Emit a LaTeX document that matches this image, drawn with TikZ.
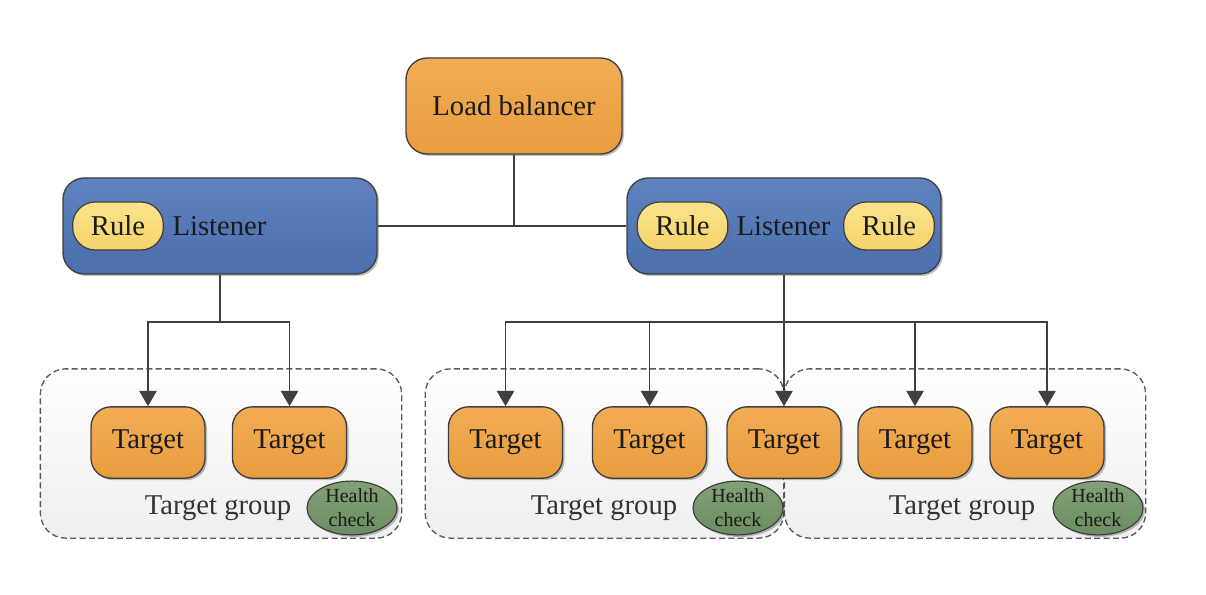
\documentclass[tikz,border=0pt]{standalone}
\usepackage{fontspec}
\setmainfont{Liberation Serif}
\usetikzlibrary{arrows.meta,shadows,shapes.geometric}
\definecolor{linec}{HTML}{3F3F3F}
\definecolor{textc}{HTML}{1A1A1A}
\definecolor{orA}{HTML}{F1AC55}
\definecolor{orB}{HTML}{E99D3E}
\definecolor{blA}{HTML}{5F83C0}
\definecolor{blB}{HTML}{4B6EAC}
\definecolor{yeA}{HTML}{FBE38D}
\definecolor{yeB}{HTML}{F4D36A}
\definecolor{grA}{HTML}{82A176}
\definecolor{grB}{HTML}{6C8C61}
\definecolor{tgA}{HTML}{FEFEFE}
\definecolor{tgB}{HTML}{EFEFEF}
\definecolor{dashc}{HTML}{5A5A5A}
\newcommand{\bigfont}{\fontsize{21.5}{24}\selectfont}
\newcommand{\hcfont}{\fontsize{15}{18}\selectfont}
\begin{document}
\begin{tikzpicture}[x=0.75pt,y=-0.75pt,
  box/.style={draw=linec, line width=1pt, rounded corners=16pt, font=\bigfont, text=textc, inner sep=0pt},
  orangebox/.style={box, top color=orA, bottom color=orB,
     drop shadow={shadow xshift=1.5pt, shadow yshift=-1.5pt, opacity=0.25, fill=black}},
  bluebox/.style={box, top color=blA, bottom color=blB,
     drop shadow={shadow xshift=1.5pt, shadow yshift=-1.5pt, opacity=0.25, fill=black}},
  rulepill/.style={draw=linec, line width=0.9pt, rounded corners=17pt, top color=yeA, bottom color=yeB,
     font=\bigfont, text=textc, inner sep=0pt, minimum width=68pt, minimum height=36pt,
     drop shadow={shadow xshift=2pt, shadow yshift=-2pt, opacity=0.35, fill=blue!20!gray}},
  tgroup/.style={draw=dashc, line width=1pt, dash pattern=on 4.5pt off 2.5pt, rounded corners=19pt,
     top color=tgA, bottom color=tgB, minimum width=271pt, minimum height=127pt, inner sep=0pt},
  targetbox/.style={orangebox, minimum width=85.5pt, minimum height=53.5pt, rounded corners=15pt},
  hcheck/.style={ellipse, draw=linec, line width=0.9pt, top color=grA, bottom color=grB,
     minimum width=67.5pt, minimum height=37.5pt, inner sep=0pt, align=center, font=\hcfont, text=textc,
     drop shadow={shadow xshift=1.5pt, shadow yshift=-1.5pt, opacity=0.25, fill=black}},
  tglabel/.style={font=\bigfont, text=black!80, inner sep=0pt},
  conn/.style={draw=linec, line width=1.2pt},
  arr/.style={conn, -{Triangle[length=11.5pt, width=13pt]}}
]
\useasboundingbox (0,0) rectangle (1206,595);

% target groups
\node[tgroup] (g1) at (221,453.5) {};
\node[tgroup, minimum width=269pt] (g2) at (604.5,453.5) {};
\node[tgroup] (g3) at (965,453.5) {};

% top nodes
\node[orangebox, minimum width=162pt, minimum height=72pt] (lb) at (514,106) {Load balancer};
\node[bluebox, minimum width=235.5pt, minimum height=72pt] (ll) at (220,226) {};
\node[bluebox, minimum width=235.5pt, minimum height=72pt] (rl) at (784,226) {};
\node[rulepill] (r1) at (118,226) {Rule};
\node[font=\bigfont, text=textc, inner sep=0pt] (lt1) at (219.5,226) {Listener};
\node[rulepill] (r2) at (682.5,226) {Rule};
\node[font=\bigfont, text=textc, inner sep=0pt] (lt2) at (783.5,226) {Listener};
\node[rulepill] (r3) at (889,226) {Rule};

% targets
\node[targetbox] (t1) at (148,442.5) {Target};
\node[targetbox] (t2) at (289.5,442.5) {Target};
\node[targetbox] (t3) at (505.5,442.5) {Target};
\node[targetbox] (t4) at (649.5,442.5) {Target};
\node[targetbox] (t5) at (784,442.5) {Target};
\node[targetbox] (t6) at (915,442.5) {Target};
\node[targetbox] (t7) at (1047,442.5) {Target};

% group labels and health checks
\node[tglabel] (gl1) at (218,508) {Target group};
\node[tglabel] (gl2) at (604,508) {Target group};
\node[tglabel] (gl3) at (962,508) {Target group};
\node[hcheck] (h1) at (352,508) {Health\\check};
\node[hcheck] (h2) at (738,508) {Health\\check};
\node[hcheck] (h3) at (1098,508) {Health\\check};

% connectors
\draw[conn] (lb.south) |- (ll.east);
\draw[conn] (lb.south) |- (rl.west);
\coordinate (lj) at (220,322);
\coordinate (rj) at (784,322);
\draw[conn] (ll.south) -- (lj);
\draw[arr] (lj) -| (t1.north);
\draw[arr] (lj) -| (t2.north);
\draw[arr] (rl.south) -- (t5.north);
\draw[arr] (rj) -| (t3.north);
\draw[arr] (rj) -| (t4.north);
\draw[arr] (rj) -| (t6.north);
\draw[arr] (rj) -| (t7.north);
\end{tikzpicture}
\end{document}
